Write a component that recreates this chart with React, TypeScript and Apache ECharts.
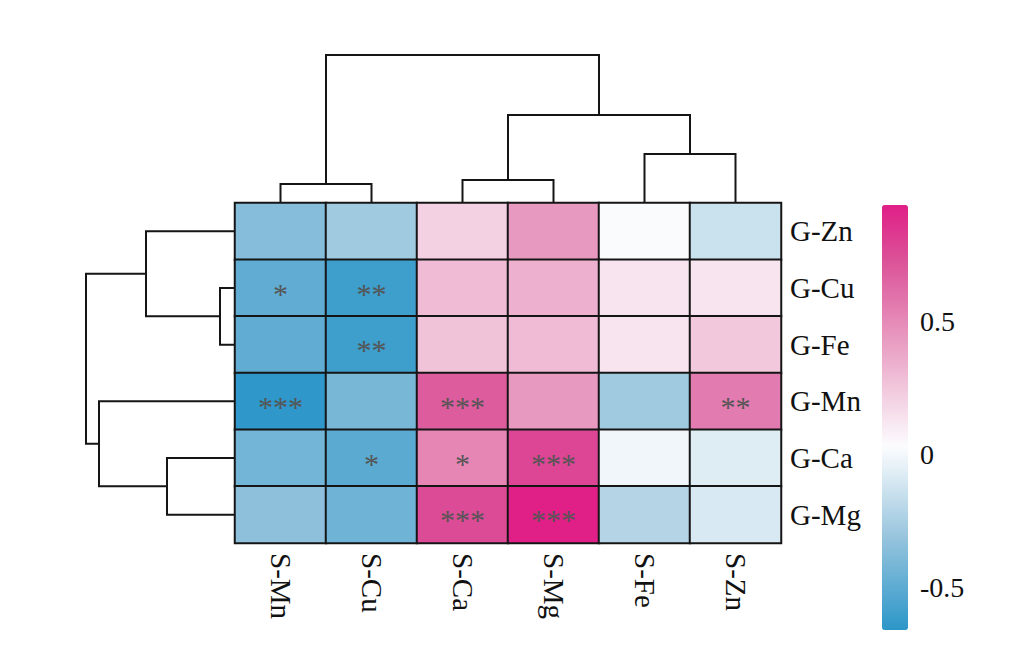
import React, { useEffect, useRef } from "react";
import * as echarts from "echarts";

const colLabels = ["S-Mn", "S-Cu", "S-Ca", "S-Mg", "S-Fe", "S-Zn"];
const rowLabels = ["G-Zn", "G-Cu", "G-Fe", "G-Mn", "G-Ca", "G-Mg"];

// correlation values, rows top-to-bottom, columns left-to-right
const rowZn = [-0.37, -0.28, 0.21, 0.44, 0.03, -0.14];
const rowCu = [-0.49, -0.6, 0.3, 0.34, 0.13, 0.13];
const rowFe = [-0.49, -0.6, 0.27, 0.3, 0.13, 0.25];
const rowMn = [-0.65, -0.41, 0.69, 0.44, -0.28, 0.56];
const rowCa = [-0.43, -0.51, 0.52, 0.78, -0.01, -0.07];
const rowMg = [-0.34, -0.44, 0.76, 0.94, -0.21, -0.09];
const values = [rowZn, rowCu, rowFe, rowMn, rowCa, rowMg];

const sigZn = ["", "", "", "", "", ""];
const sigCu = ["*", "**", "", "", "", ""];
const sigFe = ["", "**", "", "", "", ""];
const sigMn = ["***", "", "***", "", "", "**"];
const sigCa = ["", "*", "*", "***", "", ""];
const sigMg = ["", "", "***", "***", "", ""];
const stars = [sigZn, sigCu, sigFe, sigMn, sigCa, sigMg];

// dendrogram merges: [nodeA, nodeB, height]; leaves 0..5, merged nodes 6..
const colMerges = [
  [0, 1, 19],
  [2, 3, 23],
  [4, 5, 49],
  [7, 8, 88],
  [6, 9, 148],
];
const rowMerges = [
  [1, 2, 15],
  [0, 6, 89],
  [4, 5, 68],
  [3, 8, 136],
  [7, 9, 149],
];

const colorbarTicks = [-0.5, 0, 0.5];
const scaleMin = -0.66;
const scaleMax = 0.94;
const whitePoint = 0.03;

const FONT = "'Liberation Serif', 'Times New Roman', serif";

// colour stops: blue side (t from white to blue), pink side (t from white to pink)
const blueStops: [number, number[]][] = [
  [0, [252, 253, 254]],
  [0.5, [150, 196, 221]],
  [1, [44, 150, 200]],
];
const pinkStops: [number, number[]][] = [
  [0, [252, 253, 254]],
  [0.45, [232, 153, 192]],
  [0.77, [219, 82, 152]],
  [1, [224, 31, 135]],
];

function interp(stops: [number, number[]][], t: number): number[] {
  for (let i = 1; i < stops.length; i++) {
    if (t <= stops[i][0]) {
      const [t0, c0] = stops[i - 1];
      const [t1, c1] = stops[i];
      const f = (t - t0) / (t1 - t0);
      return c0.map((x, k) => Math.round(x + (c1[k] - x) * f));
    }
  }
  return stops[stops.length - 1][1];
}

function buildRamp(): string[] {
  const out: string[] = [];
  const n = 64;
  for (let k = 0; k <= n; k++) {
    const v = scaleMin + (k * (scaleMax - scaleMin)) / n;
    const c =
      v <= whitePoint
        ? interp(blueStops, (whitePoint - v) / (whitePoint - scaleMin))
        : interp(pinkStops, (v - whitePoint) / (scaleMax - whitePoint));
    out.push(`rgb(${c[0]},${c[1]},${c[2]})`);
  }
  return out;
}

function dendroSegments(merges: number[][], n: number) {
  const pos: number[][] = [];
  for (let i = 0; i < n; i++) pos.push([i + 0.5, 0]);
  const segs: number[][] = [];
  merges.forEach(([a, b, h]) => {
    segs.push([pos[a][0], pos[a][1], pos[b][0], pos[b][1], h]);
    pos.push([(pos[a][0] + pos[b][0]) / 2, h]);
  });
  return segs;
}

export default function App() {
  const ref = useRef<HTMLDivElement>(null);
  useEffect(() => {
    document.body.style.margin = "0";
    const chart = echarts.init(ref.current!, null, { renderer: "svg" });

    const heatData: any[] = [];
    values.forEach((row, r) =>
      row.forEach((v, c) => heatData.push([c, r, v, stars[r][c]]))
    );

    const topSegs = dendroSegments(colMerges, colLabels.length);
    const leftSegs = dendroSegments(rowMerges, rowLabels.length);

    const lineStyle = { stroke: "#151515", lineWidth: 2, fill: null };

    const option: any = {
      animation: false,
      backgroundColor: "#fff",
      grid: [
        { left: 235, top: 203, width: 546, height: 340 },
        { left: 235, top: 53, width: 546, height: 150 },
        { left: 85, top: 203, width: 150, height: 340 },
        { left: 882, top: 205, width: 26, height: 425 },
      ],
      xAxis: [
        {
          type: "category",
          gridIndex: 0,
          data: colLabels,
          position: "bottom",
          axisLine: { show: false },
          axisTick: { show: false },
          axisLabel: {
            rotate: -90,
            margin: 10,
            fontFamily: FONT,
            fontSize: 29,
            color: "#111",
          },
        },
        { type: "value", gridIndex: 1, min: 0, max: 6, show: false },
        { type: "value", gridIndex: 2, min: 0, max: 150, inverse: true, show: false },
        { type: "value", gridIndex: 3, min: 0, max: 1, show: false },
      ],
      yAxis: [
        {
          type: "category",
          gridIndex: 0,
          data: rowLabels,
          inverse: true,
          position: "right",
          axisLine: { show: false },
          axisTick: { show: false },
          axisLabel: {
            margin: 9,
            fontFamily: FONT,
            fontSize: 29,
            color: "#111",
          },
        },
        { type: "value", gridIndex: 1, min: 0, max: 150, show: false },
        { type: "value", gridIndex: 2, min: 0, max: 6, inverse: true, show: false },
        {
          type: "value",
          gridIndex: 3,
          min: scaleMin,
          max: scaleMax,
          position: "right",
          axisLine: { show: false },
          axisTick: { show: false },
          splitLine: { show: false },
          axisLabel: {
            customValues: colorbarTicks,
            margin: 12,
            fontFamily: FONT,
            fontSize: 28,
            color: "#111",
            formatter: (v: number) => (v === 0 ? "0" : String(v)),
          },
        },
      ],
      visualMap: {
        type: "continuous",
        seriesIndex: 0,
        dimension: 2,
        min: scaleMin,
        max: scaleMax,
        calculable: false,
        orient: "vertical",
        left: 882,
        top: 205,
        itemWidth: 26,
        itemHeight: 425,
        padding: 0,
        inRange: { color: buildRamp() },
      },
      series: [
        {
          type: "heatmap",
          xAxisIndex: 0,
          yAxisIndex: 0,
          data: heatData,
          itemStyle: { borderColor: "#151515", borderWidth: 2 },
          label: {
            show: true,
            formatter: (p: any) => p.value[3],
            color: "#555",
            fontFamily: FONT,
            fontSize: 30,
            offset: [0, 5],
          },
          emphasis: { disabled: true },
        },
        {
          type: "custom",
          xAxisIndex: 1,
          yAxisIndex: 1,
          clip: false,
          data: topSegs,
          renderItem: (params: any, api: any) => {
            const xa = api.value(0), ha = api.value(1), xb = api.value(2), hb = api.value(3), h = api.value(4);
            const pts = [
              api.coord([xa, ha]),
              api.coord([xa, h]),
              api.coord([xb, h]),
              api.coord([xb, hb]),
            ];
            return { type: "polyline", shape: { points: pts }, style: lineStyle };
          },
        },
        {
          type: "custom",
          xAxisIndex: 2,
          yAxisIndex: 2,
          clip: false,
          data: leftSegs,
          renderItem: (params: any, api: any) => {
            const ya = api.value(0), ha = api.value(1), yb = api.value(2), hb = api.value(3), h = api.value(4);
            const pts = [
              api.coord([ha, ya]),
              api.coord([h, ya]),
              api.coord([h, yb]),
              api.coord([hb, yb]),
            ];
            return { type: "polyline", shape: { points: pts }, style: lineStyle };
          },
        },
      ],
    };
    chart.setOption(option);
    return () => chart.dispose();
  }, []);
  return <div ref={ref} style={{ width: 1015, height: 671 }} />;
}
